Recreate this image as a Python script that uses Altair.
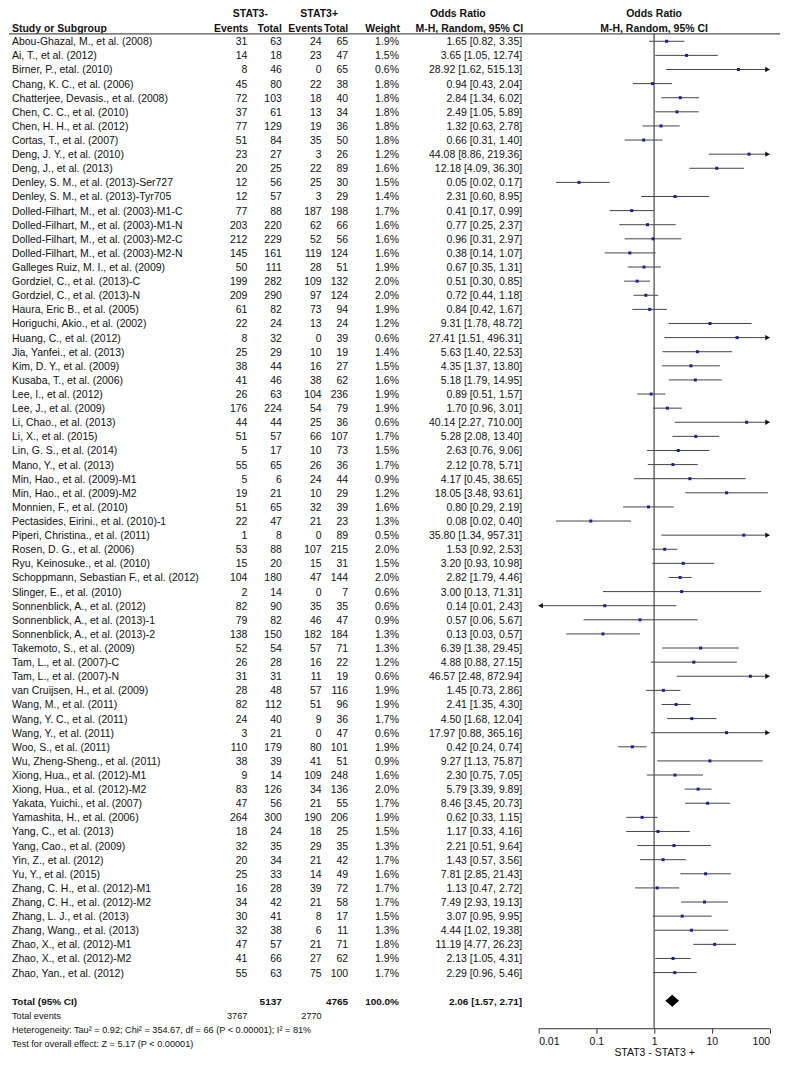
import altair as alt
import pandas as pd

# ---------------- data ----------------
studies = [
    "Abou-Ghazal, M., et al. (2008)", "Ai, T., et al. (2012)", "Birner, P., etal. (2010)",
    "Chang, K. C., et al. (2006)", "Chatterjee, Devasis., et al. (2008)", "Chen, C. C., et al. (2010)",
    "Chen, H. H., et al. (2012)", "Cortas, T., et al. (2007)", "Deng, J. Y., et al. (2010)",
    "Deng, J., et al. (2013)", "Denley, S. M., et al. (2013)-Ser727", "Denley, S. M., et al. (2013)-Tyr705",
    "Dolled-Filhart, M., et al. (2003)-M1-C", "Dolled-Filhart, M., et al. (2003)-M1-N",
    "Dolled-Filhart, M., et al. (2003)-M2-C", "Dolled-Filhart, M., et al. (2003)-M2-N",
    "Galleges Ruiz, M. I., et al. (2009)", "Gordziel, C., et al. (2013)-C", "Gordziel, C., et al. (2013)-N",
    "Haura, Eric B., et al. (2005)", "Horiguchi, Akio., et al. (2002)", "Huang, C., et al. (2012)",
    "Jia, Yanfei., et al. (2013)", "Kim, D. Y., et al. (2009)", "Kusaba, T., et al. (2006)",
    "Lee, I., et al. (2012)", "Lee, J., et al. (2009)", "Li, Chao., et al. (2013)", "Li, X., et al. (2015)",
    "Lin, G. S., et al. (2014)", "Mano, Y., et al. (2013)", "Min, Hao., et al. (2009)-M1",
    "Min, Hao., et al. (2009)-M2", "Monnien, F., et al. (2010)", "Pectasides, Eirini., et al. (2010)-1",
    "Piperi, Christina., et al. (2011)", "Rosen, D. G., et al. (2006)", "Ryu, Keinosuke., et al. (2010)",
    "Schoppmann, Sebastian F., et al. (2012)", "Slinger, E., et al. (2010)", "Sonnenblick, A., et al. (2012)",
    "Sonnenblick, A., et al. (2013)-1", "Sonnenblick, A., et al. (2013)-2", "Takemoto, S., et al. (2009)",
    "Tam, L., et al. (2007)-C", "Tam, L., et al. (2007)-N", "van Cruijsen, H., et al. (2009)",
    "Wang, M., et al. (2011)", "Wang, Y. C., et al. (2011)", "Wang, Y., et al. (2011)",
    "Woo, S., et al. (2011)", "Wu, Zheng-Sheng., et al. (2011)", "Xiong, Hua., et al. (2012)-M1",
    "Xiong, Hua., et al. (2012)-M2", "Yakata, Yuichi., et al. (2007)", "Yamashita, H., et al. (2006)",
    "Yang, C., et al. (2013)", "Yang, Cao., et al. (2009)", "Yin, Z., et al. (2012)", "Yu, Y., et al. (2015)",
    "Zhang, C. H., et al. (2012)-M1", "Zhang, C. H., et al. (2012)-M2", "Zhang, L. J., et al. (2013)",
    "Zhang, Wang., et al. (2013)", "Zhao, X., et al. (2012)-M1", "Zhao, X., et al. (2012)-M2",
    "Zhao, Yan., et al. (2012)",
]
ev_neg = [31, 14, 8, 45, 72, 37, 77, 51, 23, 20, 12, 12, 77, 203, 212, 145, 50, 199, 209, 61, 22, 8, 25, 38,
          41, 26, 176, 44, 51, 5, 55, 5, 19, 51, 22, 1, 53, 15, 104, 2, 82, 79, 138, 52, 26, 31, 28, 82, 24, 3,
          110, 38, 9, 83, 47, 264, 18, 32, 20, 25, 16, 34, 30, 32, 47, 41, 55]
tot_neg = [63, 18, 46, 80, 103, 61, 129, 84, 27, 25, 56, 57, 88, 220, 229, 161, 111, 282, 290, 82, 24, 32, 29,
           44, 46, 63, 224, 44, 57, 17, 65, 6, 21, 65, 47, 8, 88, 20, 180, 14, 90, 82, 150, 54, 28, 31, 48, 112,
           40, 21, 179, 39, 14, 126, 56, 300, 24, 35, 34, 33, 28, 42, 41, 38, 57, 66, 63]
ev_pos = [24, 23, 0, 22, 18, 13, 19, 35, 3, 22, 25, 3, 187, 62, 52, 119, 28, 109, 97, 73, 13, 0, 10, 16, 38,
          104, 54, 25, 66, 10, 26, 24, 10, 32, 21, 0, 107, 15, 47, 0, 35, 46, 182, 57, 16, 11, 57, 51, 9, 0,
          80, 41, 109, 34, 21, 190, 18, 29, 21, 14, 39, 21, 8, 6, 21, 27, 75]
tot_pos = [65, 47, 65, 38, 40, 34, 36, 50, 26, 89, 30, 29, 198, 66, 56, 124, 51, 132, 124, 94, 24, 39, 19, 27,
           62, 236, 79, 36, 107, 73, 36, 44, 29, 39, 23, 89, 215, 31, 144, 7, 35, 47, 184, 71, 22, 19, 116, 96,
           36, 47, 101, 51, 248, 136, 55, 206, 25, 35, 42, 49, 72, 58, 17, 11, 71, 62, 100]
weights = [1.9, 1.5, 0.6, 1.8, 1.8, 1.8, 1.8, 1.8, 1.2, 1.6, 1.5, 1.4, 1.7, 1.6, 1.6, 1.6, 1.9, 2.0, 2.0, 1.9,
           1.2, 0.6, 1.4, 1.5, 1.6, 1.9, 1.9, 0.6, 1.7, 1.5, 1.7, 0.9, 1.2, 1.6, 1.3, 0.5, 2.0, 1.5, 2.0, 0.6,
           0.6, 0.9, 1.3, 1.3, 1.2, 0.6, 1.9, 1.9, 1.7, 0.6, 1.9, 0.9, 1.6, 2.0, 1.7, 1.9, 1.5, 1.3, 1.7, 1.6,
           1.7, 1.7, 1.5, 1.3, 1.8, 1.9, 1.7]
or_est = [1.65, 3.65, 28.92, 0.94, 2.84, 2.49, 1.32, 0.66, 44.08, 12.18, 0.05, 2.31, 0.41, 0.77, 0.96, 0.38,
          0.67, 0.51, 0.72, 0.84, 9.31, 27.41, 5.63, 4.35, 5.18, 0.89, 1.70, 40.14, 5.28, 2.63, 2.12, 4.17,
          18.05, 0.80, 0.08, 35.80, 1.53, 3.20, 2.82, 3.00, 0.14, 0.57, 0.13, 6.39, 4.88, 46.57, 1.45, 2.41,
          4.50, 17.97, 0.42, 9.27, 2.30, 5.79, 8.46, 0.62, 1.17, 2.21, 1.43, 7.81, 1.13, 7.49, 3.07, 4.44,
          11.19, 2.13, 2.29]
ci_low = [0.82, 1.05, 1.62, 0.43, 1.34, 1.05, 0.63, 0.31, 8.86, 4.09, 0.02, 0.60, 0.17, 0.25, 0.31, 0.14,
          0.35, 0.30, 0.44, 0.42, 1.78, 1.51, 1.40, 1.37, 1.79, 0.51, 0.96, 2.27, 2.08, 0.76, 0.78, 0.45,
          3.48, 0.29, 0.02, 1.34, 0.92, 0.93, 1.79, 0.13, 0.01, 0.06, 0.03, 1.38, 0.88, 2.48, 0.73, 1.35,
          1.68, 0.88, 0.24, 1.13, 0.75, 3.39, 3.45, 0.33, 0.33, 0.51, 0.57, 2.85, 0.47, 2.93, 0.95, 1.02,
          4.77, 1.05, 0.96]
ci_high = [3.35, 12.74, 515.13, 2.04, 6.02, 5.89, 2.78, 1.40, 219.36, 36.30, 0.17, 8.95, 0.99, 2.37, 2.97,
           1.07, 1.31, 0.85, 1.18, 1.67, 48.72, 496.31, 22.53, 13.80, 14.95, 1.57, 3.01, 710.00, 13.40, 9.06,
           5.71, 38.65, 93.61, 2.19, 0.40, 957.31, 2.53, 10.98, 4.46, 71.31, 2.43, 5.67, 0.57, 29.45, 27.15,
           872.94, 2.86, 4.30, 12.04, 365.16, 0.74, 75.87, 7.05, 9.89, 20.73, 1.15, 4.16, 9.64, 3.56, 21.43,
           2.72, 19.13, 9.95, 19.38, 26.23, 4.31, 5.46]

total_n = [5137, 4765]
total_events = [3767, 2770]
pooled = [2.06, 1.57, 2.71]   # estimate, lower, upper
tick_values = [0.01, 0.1, 1, 10, 100]
heterogeneity = "Heterogeneity: Tau\u00b2 = 0.92; Chi\u00b2 = 354.67, df = 66 (P < 0.00001); I\u00b2 = 81%"
overall = "Test for overall effect: Z = 5.17 (P < 0.00001)"

# ---------------- table ----------------
XMIN, XMAX = tick_values[0], tick_values[-1]
df = pd.DataFrame({
    "study": studies, "ev_neg": ev_neg, "tot_neg": tot_neg, "ev_pos": ev_pos, "tot_pos": tot_pos,
    "w": weights, "or": or_est, "lo": ci_low, "hi": ci_high,
})
df["row"] = range(len(df))
df["w_txt"] = df["w"].map(lambda v: f"{v:.1f}%")
df["ci_txt"] = [f"{o:.2f} [{l:.2f}, {h:.2f}]" for o, l, h in zip(df["or"], df["lo"], df["hi"])]
df["lo_c"] = df["lo"].clip(lower=XMIN)
df["hi_c"] = df["hi"].clip(upper=XMAX)
for c in ["ev_neg", "tot_neg", "ev_pos", "tot_pos"]:
    df[c + "_s"] = df[c].astype(str)

N = len(df)
TOTAL_ROW = N + 1

# ---------------- layout / style ----------------
W, H = 773, 1021.5
F = "Liberation Sans, Arial, sans-serif"
FS = 10.5
FS_FOOT = 9.2
X_STUDY, X_EV1, X_TOT1, X_EV2, X_TOT2, X_W, X_CI = 3, 239, 273.5, 313.5, 340, 391, 514.5
X_PLOT = [531, 762.5]
X_MID = (X_PLOT[0] + X_PLOT[1]) / 2
Y_HDR1, Y_HDR2, Y_LINE = 5, 19.5, 24.6
Y_ROW0, Y_TOT = 32.0, 994.0

XS = alt.Scale(type="log", domain=[XMIN, XMAX], range=X_PLOT)
YS = alt.Scale(domain=[0, TOTAL_ROW], range=[Y_ROW0, Y_TOT], nice=False, zero=False)
AX = alt.Axis(values=tick_values, format="~g", title="STAT3 -   STAT3 +", orient="bottom", grid=False,
              tickSize=5, domainColor="#333", tickColor="#333", labelFont=F, labelFontSize=FS,
              labelColor="#111", labelPadding=3, labelFlush=True, titleFont=F, titleFontSize=FS,
              titleFontWeight="normal", titleColor="#111", titlePadding=1)

Yrow = alt.Y("row:Q", scale=YS, axis=None)
base = alt.Chart(df)


def col(field, x, align):
    return base.mark_text(align=align, baseline="middle", font=F, fontSize=FS, color="#111", dy=1).encode(
        x=alt.value(x), y=Yrow, text=f"{field}:N")


def label(txt, x, y, align="left", bold=False, size=FS):
    return alt.Chart(pd.DataFrame({"t": [txt]})).mark_text(
        align=align, baseline="middle", font=F, fontSize=size, color="#111",
        fontWeight="bold" if bold else "normal").encode(x=alt.value(x), y=alt.value(y), text="t:N")


layers = [
    col("study", X_STUDY, "left"),
    col("ev_neg_s", X_EV1, "right"),
    col("tot_neg_s", X_TOT1, "right"),
    col("ev_pos_s", X_EV2, "right"),
    col("tot_pos_s", X_TOT2, "right"),
    col("w_txt", X_W, "right"),
    col("ci_txt", X_CI, "right"),
]

# headers
layers += [
    label("STAT3-", 242, Y_HDR1, "center", True),
    label("STAT3+", 311, Y_HDR1, "center", True),
    label("Odds Ratio", 450, Y_HDR1, "center", True),
    label("Odds Ratio", X_MID, Y_HDR1, "center", True),
    label("Study or Subgroup", X_STUDY, Y_HDR2, "left", True),
    label("Events", X_EV1 + 1, Y_HDR2, "right", True),
    label("Total", X_TOT1, Y_HDR2, "right", True),
    label("Events", X_EV2 + 1, Y_HDR2, "right", True),
    label("Total", X_TOT2, Y_HDR2, "right", True),
    label("Weight", X_W + 1, Y_HDR2, "right", True),
    label("M-H, Random, 95% CI", X_CI + 1, Y_HDR2, "right", True),
    label("M-H, Random, 95% CI", X_MID, Y_HDR2, "center", True),
]

# header underline
layers.append(alt.Chart(pd.DataFrame({"a": [0]})).mark_rule(color="#555", strokeWidth=1.2).encode(
    x=alt.value(0), x2=alt.value(W), y=alt.value(Y_LINE)))

# line of no effect
layers.append(alt.Chart(pd.DataFrame({"v": [1.0]})).mark_rule(color="#222", strokeWidth=1).encode(
    x=alt.X("v:Q", scale=XS, axis=AX), y=alt.value(Y_LINE), y2=alt.value(H)))

# CI lines
layers.append(base.mark_rule(color="#444", strokeWidth=1).encode(
    x=alt.X("lo_c:Q", scale=XS, axis=AX), x2="hi_c:Q", y=Yrow))
# point estimates
layers.append(base.mark_square(size=9, color="#1d1d9e", opacity=1).encode(
    x=alt.X("or:Q", scale=XS, axis=AX), y=Yrow))
# arrows for clipped CIs
layers.append(alt.Chart(df[df["hi"] > XMAX]).mark_point(
    shape="triangle-right", filled=True, size=28, color="#111", opacity=1, xOffset=-2).encode(
    x=alt.X("hi_c:Q", scale=XS, axis=AX), y=Yrow))
layers.append(alt.Chart(df[df["lo"] <= XMIN]).mark_point(
    shape="triangle-left", filled=True, size=28, color="#111", opacity=1, xOffset=2).encode(
    x=alt.X("lo_c:Q", scale=XS, axis=AX), y=Yrow))

# pooled diamond
half = 0.42
dia = pd.DataFrame({
    "x": [pooled[1], pooled[0], pooled[2]],
    "y": [TOTAL_ROW, TOTAL_ROW - half, TOTAL_ROW],
    "y2": [TOTAL_ROW, TOTAL_ROW + half, TOTAL_ROW],
})
layers.append(alt.Chart(dia).mark_area(color="black", orient="vertical", opacity=1).encode(
    x=alt.X("x:Q", scale=XS, axis=AX), y=alt.Y("y:Q", scale=YS, axis=None), y2="y2:Q"))

# totals and footer
y_tot_px = Y_TOT + 1
layers += [
    label("Total (95% CI)", X_STUDY, y_tot_px, "left", True, 10),
    label(str(total_n[0]), X_TOT1, y_tot_px, "right", True, 10),
    label(str(total_n[1]), X_TOT2, y_tot_px, "right", True, 10),
    label("100.0%", X_W, y_tot_px, "right", True, 10),
    label(f"{pooled[0]:.2f} [{pooled[1]:.2f}, {pooled[2]:.2f}]", X_CI, y_tot_px, "right", True, 10),
    label("Total events", X_STUDY, 1009, "left", False, FS_FOOT),
    label(str(total_events[0]), X_EV1, 1009, "right", False, FS_FOOT),
    label(str(total_events[1]), X_EV2, 1009, "right", False, FS_FOOT),
    label(heterogeneity, X_STUDY, 1023, "left", False, FS_FOOT),
    label(overall, X_STUDY, 1037, "left", False, FS_FOOT),
]

chart = alt.layer(*layers).properties(width=W, height=H, padding=0).configure_view(stroke=None)
chart.save("out.html", embed_options={"renderer": "svg", "actions": False})
